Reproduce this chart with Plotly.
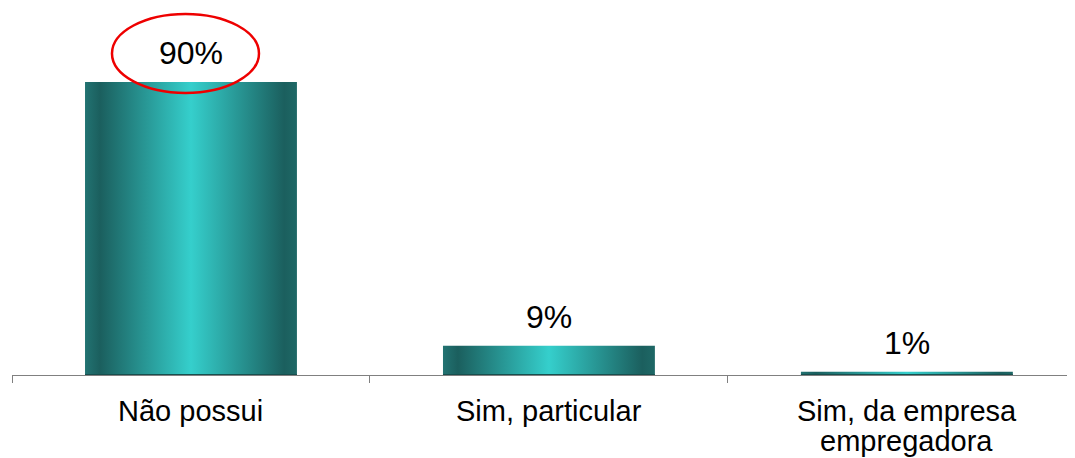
import plotly.graph_objects as go

categories = ["Não possui", "Sim, particular", "Sim, da empresa<br>empregadora"]
values = [90, 9, 1]
value_labels = ["90%", "9%", "1%"]

BAR_W = 0.592
LINE_STEP = 30
FONT = "Arial, Liberation Sans, sans-serif"
colorscale = [
    [0.0, "#227372"],
    [0.07, "#1B5F5E"],
    [0.5, "#35CFCC"],
    [0.94, "#1B5F5E"],
    [1.0, "#1E6866"],
]

fig = go.Figure()
for i, (cat, v) in enumerate(zip(categories, values)):
    x0, x1 = i - BAR_W / 2, i + BAR_W / 2
    fig.add_trace(go.Scatter(
        x=[x0, x1, x1, x0, x0], y=[0, 0, v, v, 0],
        mode="lines", line=dict(width=0), fill="toself",
        fillgradient=dict(type="horizontal", colorscale=colorscale),
        name=cat.replace("<br>", " "), hoverinfo="name", showlegend=False,
    ))
    fig.add_trace(go.Scatter(
        x=[x0, x1], y=[0, 0], mode="lines",
        line=dict(color="#174f4e", width=2), hoverinfo="skip", showlegend=False,
    ))
    fig.add_annotation(x=i, y=v, text=value_labels[i], showarrow=False,
                       xref="x", yref="y", yanchor="bottom", yshift=9,
                       font=dict(family=FONT, size=32, color="#000"))
    for k, line in enumerate(cat.split("<br>")):
        fig.add_annotation(x=i, y=0, text=line, showarrow=False,
                           xref="x", yref="paper", yanchor="top",
                           yshift=-18 - k * LINE_STEP,
                           font=dict(family=FONT, size=29, color="#000"))

fig.add_shape(type="circle", xref="x", yref="y", xsizemode="pixel", ysizemode="pixel",
              xanchor=0, yanchor=values[0], x0=-79, x1=68, y0=-11, y1=68,
              line=dict(color="#EE0000", width=2.5), layer="above")

fig.update_xaxes(range=[-0.5, 2.492], showgrid=False, zeroline=False,
                 showline=True, linecolor="#808080", linewidth=1.3,
                 tickmode="array", tickvals=[-0.5, 0.5, 1.5, 2.5],
                 ticks="outside", ticklen=7, tickcolor="#808080", tickwidth=1.3,
                 showticklabels=False, fixedrange=True)
fig.update_yaxes(range=[0, 112.7], visible=False, fixedrange=True)
fig.update_layout(width=1075, height=458, margin=dict(l=4, r=0, t=0, b=91),
                  plot_bgcolor="white", paper_bgcolor="white",
                  font=dict(family=FONT))
fig.write_html("out.html")
